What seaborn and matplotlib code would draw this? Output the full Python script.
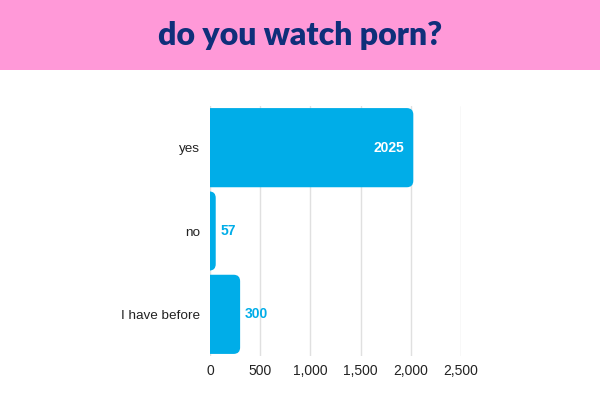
import matplotlib
matplotlib.use("Agg")
import matplotlib.pyplot as plt
from matplotlib.patches import FancyBboxPatch
import pandas as pd
import seaborn as sns

# chart data
answers = ["yes", "no", "I have before"]
counts = [2025, 57, 300]
x_ticks = [0, 500, 1000, 1500, 2000, 2500]

bar_color = "#00ADE8"
title_color = "#0F2F7A"
band_color = "#FF99D8"

sns.set_theme(style="white")
plt.rcParams["font.family"] = ["Liberation Sans", "DejaVu Sans"]

df = pd.DataFrame({"answer": answers, "count": counts})

fig = plt.figure(figsize=(6, 4.15), dpi=100)
fig.patch.set_facecolor("white")

# pink header band with title
band = fig.add_axes([0, 1 - 70 / 415, 1, 70 / 415])
band.set_facecolor(band_color)
band.set_xticks([])
band.set_yticks([])
for s in band.spines.values():
    s.set_visible(False)
band.text(0.5, 0.50, "do you watch porn?", ha="center", va="center",
          fontsize=23, fontweight="heavy", color=title_color,
          family=["Lato", "DejaVu Sans"], transform=band.transAxes)

ax = fig.add_axes([210 / 600, 1 - 356 / 415, 251 / 600, 250 / 415])
sns.barplot(data=df, x="count", y="answer", orient="h", color=bar_color,
            width=0.95, saturation=1, ax=ax, zorder=3)

# swap plain bars for rounded ones (left side hidden under the axis)
rad = 65  # in data units along x (~6.5 px)
for p in list(ax.patches):
    x0, y0 = p.get_x(), p.get_y()
    w, h = p.get_width(), p.get_height()
    rounded = FancyBboxPatch((x0 - 80, y0), w + 80, h,
                             boxstyle=f"round,pad=0,rounding_size={rad}",
                             mutation_aspect=0.0012,
                             facecolor=bar_color, edgecolor="none", zorder=3,
                             clip_on=True)
    p.remove()
    ax.add_patch(rounded)

ax.set_xlim(0, 2500)
ax.set_ylim(2.5, -0.5)
ax.set_xticks(x_ticks)
ax.set_xticklabels([f"{t:,}" for t in x_ticks])
ax.tick_params(axis="both", length=0, colors="#222222")
ax.tick_params(axis="x", pad=6, labelsize=10)
ax.tick_params(axis="y", pad=7, labelsize=9.7)
ax.set_xlabel("")
ax.set_ylabel("")
ax.grid(axis="x", color="#E0E0E0", linewidth=1, zorder=0)
for s in ax.spines.values():
    s.set_visible(False)

# value labels
for i, v in enumerate(counts):
    if v > 1000:
        ax.text(v - 90, i, str(v), ha="right", va="center", color="white",
                fontsize=10, fontweight="bold", zorder=4)
    else:
        ax.text(v + 50, i, str(v), ha="left", va="center", color=bar_color,
                fontsize=10, fontweight="bold", zorder=4)

fig.savefig("out.png", dpi=100, facecolor="white")
